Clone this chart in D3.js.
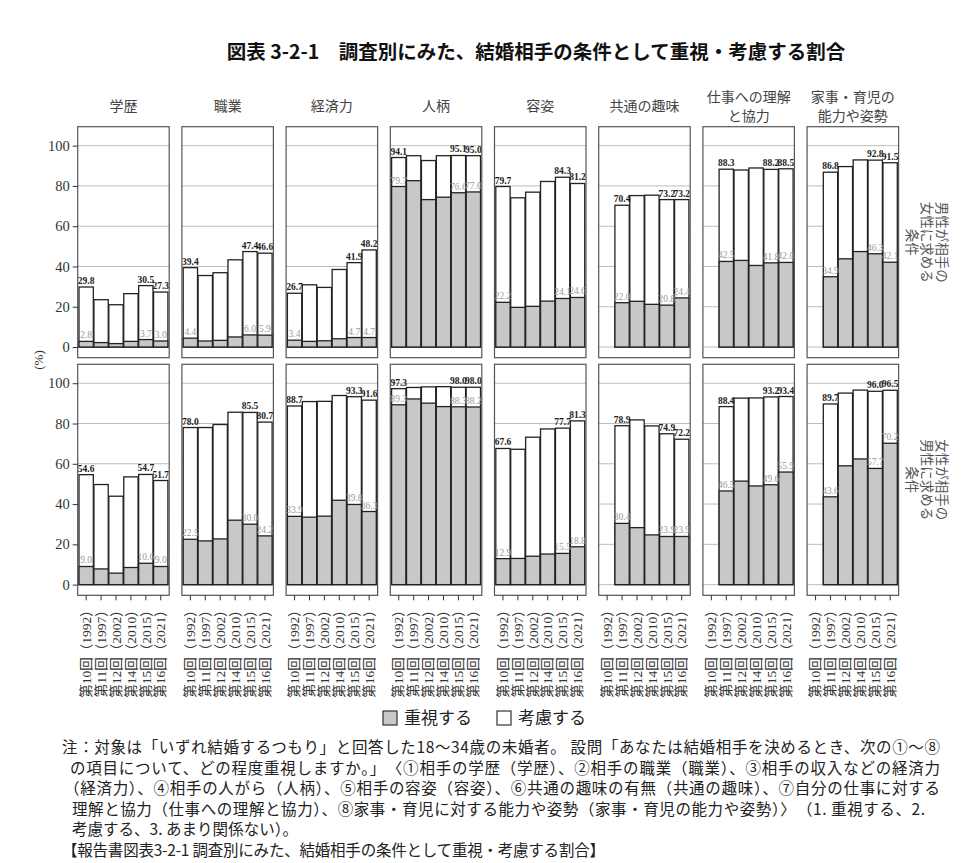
<!DOCTYPE html>
<html>
<head>
<meta charset="utf-8">
<script src="https://cdn.jsdelivr.net/npm/d3@7"></script>
<style>
  body { margin: 0; background: #fff; }
  svg { display: block; }
</style>
</head>
<body>
<div id="chart"></div>
<script>
// Data
const surveys = ["第10回（1992）", "第11回（1997）", "第12回（2002）", "第14回（2010）", "第15回（2015）", "第16回（2021）"];
const conditions = ["学歴", "職業", "経済力", "人柄", "容姿", "共通の趣味", "仕事への理解と協力", "家事・育児の能力や姿勢"];
const stripLabels = [["学歴"], ["職業"], ["経済力"], ["人柄"], ["容姿"], ["共通の趣味"], ["仕事への理解", "と協力"], ["家事・育児の", "能力や姿勢"]];
const rowLabels = [["男性が相手の", "女性に求める", "条件"], ["女性が相手の", "男性に求める", "条件"]];
const yTicks = [0, 20, 40, 60, 80, 100];
const legendLabels = ["重視する", "考慮する"];

// 重視する + 考慮する (total), one row per condition, one column per survey
const maleTotal = [
  [29.8, 23.5, 21.0, 26.5, 30.5, 27.3],
  [39.4, 35.5, 36.9, 43.3, 47.4, 46.6],
  [26.7, 30.9, 29.6, 38.5, 41.9, 48.2],
  [94.1, 95.0, 92.6, 95.0, 95.1, 95.0],
  [79.7, 74.1, 76.9, 82.2, 84.3, 81.2],
  [null, 70.4, 75.2, 75.4, 73.2, 73.2],
  [null, 88.3, 87.9, 88.9, 88.2, 88.5],
  [null, 86.8, 89.6, 92.9, 92.8, 91.5]
];
// 重視する
const maleJushi = [
  [2.8, 2.2, 1.7, 2.8, 3.7, 3.0],
  [4.4, 3.0, 3.3, 5.0, 6.0, 5.9],
  [3.4, 2.8, 3.1, 4.1, 4.7, 4.7],
  [79.7, 82.6, 73.2, 74.4, 76.6, 77.0],
  [22.2, 19.7, 20.2, 22.8, 24.1, 24.6],
  [null, 22.0, 22.7, 21.2, 20.8, 24.4],
  [null, 42.5, 43.0, 40.5, 41.8, 42.0],
  [null, 34.9, 43.8, 47.4, 46.3, 42.1]
];
const femaleTotal = [
  [54.6, 49.7, 43.9, 53.5, 54.7, 51.7],
  [78.0, 78.0, 79.5, 85.6, 85.5, 80.7],
  [88.7, 90.9, 91.0, 93.9, 93.3, 91.6],
  [97.3, 97.9, 98.2, 98.3, 98.0, 98.0],
  [67.6, 67.2, 73.2, 77.3, 77.7, 81.3],
  [null, 78.9, 81.8, 78.8, 74.9, 72.2],
  [null, 88.4, 92.6, 92.7, 93.2, 93.4],
  [null, 89.7, 95.1, 96.6, 96.0, 96.5]
];
const femaleJushi = [
  [9.0, 7.8, 5.7, 8.5, 10.6, 9.0],
  [22.5, 21.7, 22.7, 32.0, 30.0, 24.2],
  [33.9, 33.5, 34.0, 41.9, 39.8, 36.3],
  [89.3, 92.2, 90.1, 88.4, 88.3, 88.2],
  [12.9, 13.0, 14.1, 15.2, 15.5, 18.8],
  [null, 30.4, 28.3, 24.7, 23.9, 23.9],
  [null, 46.5, 51.4, 49.0, 49.6, 55.9],
  [null, 43.6, 59.0, 62.4, 57.7, 70.2]
];

const noteLines = [
  "注：対象は「いずれ結婚するつもり」と回答した18～34歳の未婚者。 設問「あなたは結婚相手を決めるとき、次の①～⑧",
  "の項目について、どの程度重視しますか。」　〈①相手の学歴（学歴）、②相手の職業（職業）、③相手の収入などの経済力",
  "（経済力）、④相手の人がら（人柄）、⑤相手の容姿（容姿）、⑥共通の趣味の有無（共通の趣味）、⑦自分の仕事に対する",
  "理解と協力（仕事への理解と協力）、⑧家事・育児に対する能力や姿勢（家事・育児の能力や姿勢）〉　（1. 重視する、2.",
  "考慮する、3. あまり関係ない）。",
  "【報告書図表3-2-1 調査別にみた、結婚相手の条件として重視・考慮する割合】"
];

const rows = [
  { total: maleTotal, jushi: maleJushi },
  { total: femaleTotal, jushi: femaleJushi }
];

// Layout
const W = 976, H = 863;
const panelLeft = 77.7, panelStep = 104.2, panelW = 91.5;
const rowTop = [126.7, 364.3], rowH = 231;
const noteX = [62, 70, 64, 72, 72, 62];
const noteEnd = [940, 940, 940, 925, 298, 605];
const serif = "'Liberation Serif', 'DejaVu Serif', 'Noto Sans CJK JP', serif";
const jp = "'Noto Sans CJK JP', sans-serif";
const gray = "#c8c8c8", edge = "#222";

const svg = d3.select("#chart").append("svg")
  .attr("width", W).attr("height", H);
svg.append("rect").attr("width", W).attr("height", H).attr("fill", "#fff");

// Title
svg.append("text")
  .attr("x", 536).attr("y", 59)
  .attr("text-anchor", "middle")
  .style("font-family", jp).style("font-weight", "bold").style("font-size", "19.5px")
  .attr("fill", "#111")
  .text("図表 3-2-1　調査別にみた、結婚相手の条件として重視・考慮する割合");

// Scales
const x = d3.scaleBand().domain(surveys).range([1, panelW - 1]).paddingInner(0.04).paddingOuter(0.02);
const y = d3.scaleLinear().domain([-5.3, 109.4]).range([rowH, 0]);
const fmt = d3.format(".1f");

rows.forEach((row, r) => {
  conditions.forEach((cond, c) => {
    const g = svg.append("g")
      .attr("transform", `translate(${panelLeft + c * panelStep},${rowTop[r]})`);

    // gridlines
    g.selectAll(".grid").data(yTicks).enter().append("line")
      .attr("x1", 0).attr("x2", panelW)
      .attr("y1", d => y(d)).attr("y2", d => y(d))
      .attr("stroke", "#bdbdbd").attr("stroke-width", 1);

    const bars = surveys.map((s, i) => ({
      survey: s, i: i, total: row.total[c][i], jushi: row.jushi[c][i]
    })).filter(d => d.total != null);

    // total bar (white = 考慮する on top of 重視する)
    g.selectAll(".tot").data(bars).enter().append("rect")
      .attr("x", d => x(d.survey)).attr("width", x.bandwidth())
      .attr("y", d => y(d.total)).attr("height", d => y(0) - y(d.total))
      .attr("fill", "#fff").attr("stroke", edge).attr("stroke-width", 1.3);

    g.selectAll(".jus").data(bars).enter().append("rect")
      .attr("x", d => x(d.survey)).attr("width", x.bandwidth())
      .attr("y", d => y(d.jushi)).attr("height", d => y(0) - y(d.jushi))
      .attr("fill", gray).attr("stroke", edge).attr("stroke-width", 1.3);

    // labels on the first bar and the two latest surveys
    const labelled = bars.filter((d, k) => k === 0 || d.i >= 4);
    g.selectAll(".lt").data(labelled).enter().append("text")
      .attr("x", d => x(d.survey) + x.bandwidth() / 2)
      .attr("y", d => y(d.total) - 3)
      .attr("text-anchor", "middle")
      .style("font-family", serif).style("font-size", "9.5px").style("font-weight", "bold")
      .attr("fill", "#222")
      .text(d => fmt(d.total));
    g.selectAll(".lj").data(labelled).enter().append("text")
      .attr("x", d => x(d.survey) + x.bandwidth() / 2)
      .attr("y", d => y(d.jushi) - 3)
      .attr("text-anchor", "middle")
      .style("font-family", serif).style("font-size", "9.5px")
      .attr("fill", "#9a9a9a")
      .text(d => fmt(d.jushi));

    // panel border
    g.append("rect")
      .attr("width", panelW).attr("height", rowH)
      .attr("fill", "none").attr("stroke", "#555").attr("stroke-width", 1.2);

    // strip labels
    if (r === 0) {
      const lines = stripLabels[c];
      const cy = 106 - (lines.length - 1) * 9.5;
      lines.forEach((t, k) => {
        svg.append("text")
          .attr("x", panelLeft + c * panelStep + panelW / 2)
          .attr("y", cy + k * 19 + 5)
          .attr("text-anchor", "middle")
          .style("font-family", jp).style("font-size", "14px")
          .attr("fill", "#444")
          .text(t);
      });
    }

    // x axis on bottom row
    if (r === 1) {
      const ax = g.append("g")
        .attr("transform", `translate(0,${rowH})`)
        .call(d3.axisBottom(x).tickSize(5).tickSizeOuter(0));
      ax.select(".domain").remove();
      ax.selectAll(".tick line").attr("stroke", "#333");
      ax.selectAll(".tick text")
        .attr("transform", "rotate(-90)")
        .attr("x", -8).attr("y", 0).attr("dy", "0.35em")
        .attr("text-anchor", "end")
        .style("font-family", serif).style("font-size", "13.5px")
        .attr("fill", "#333");
    }

    // y axis on first column
    if (c === 0) {
      const ay = g.append("g")
        .call(d3.axisLeft(y).tickValues(yTicks).tickSize(5).tickFormat(d3.format("d")));
      ay.select(".domain").remove();
      ay.selectAll(".tick line").attr("stroke", "#333");
      ay.selectAll(".tick text")
        .attr("x", -8)
        .style("font-family", serif).style("font-size", "14.5px")
        .attr("fill", "#333");
    }
  });

  // row labels on the right
  const cy = rowTop[r] + rowH / 2;
  rowLabels[r].forEach((t, k) => {
    svg.append("text")
      .attr("transform", `translate(${942 - k * 15},${cy}) rotate(90)`)
      .attr("text-anchor", "middle")
      .attr("dy", "0.35em")
      .style("font-family", jp).style("font-size", "13.5px")
      .attr("fill", "#555")
      .text(t);
  });
});

// y axis title
svg.append("text")
  .attr("transform", "translate(38,360) rotate(-90)")
  .attr("text-anchor", "middle").attr("dy", "0.35em")
  .style("font-family", serif).style("font-size", "13px")
  .attr("fill", "#333")
  .text("(%)");

// Legend
const legend = svg.append("g").attr("transform", "translate(383,718)");
[gray, "#fff"].forEach((fill, i) => {
  const lx = i * 114;
  legend.append("rect")
    .attr("x", lx).attr("y", -7).attr("width", 14).attr("height", 14)
    .attr("fill", fill).attr("stroke", "#333").attr("stroke-width", 1.2);
  legend.append("text")
    .attr("x", lx + 21).attr("y", 0).attr("dy", "0.36em")
    .style("font-family", jp).style("font-size", "17px")
    .attr("fill", "#222")
    .text(legendLabels[i]);
});

// Notes
noteLines.forEach((t, i) => {
  svg.append("text")
    .attr("x", noteX[i]).attr("y", 753 + i * 20.6)
    .attr("textLength", noteEnd[i] - noteX[i])
    .attr("lengthAdjust", "spacing")
    .style("font-family", jp).style("font-size", "15.5px")
    .attr("fill", "#222")
    .text(t);
});
</script>
</body>
</html>
